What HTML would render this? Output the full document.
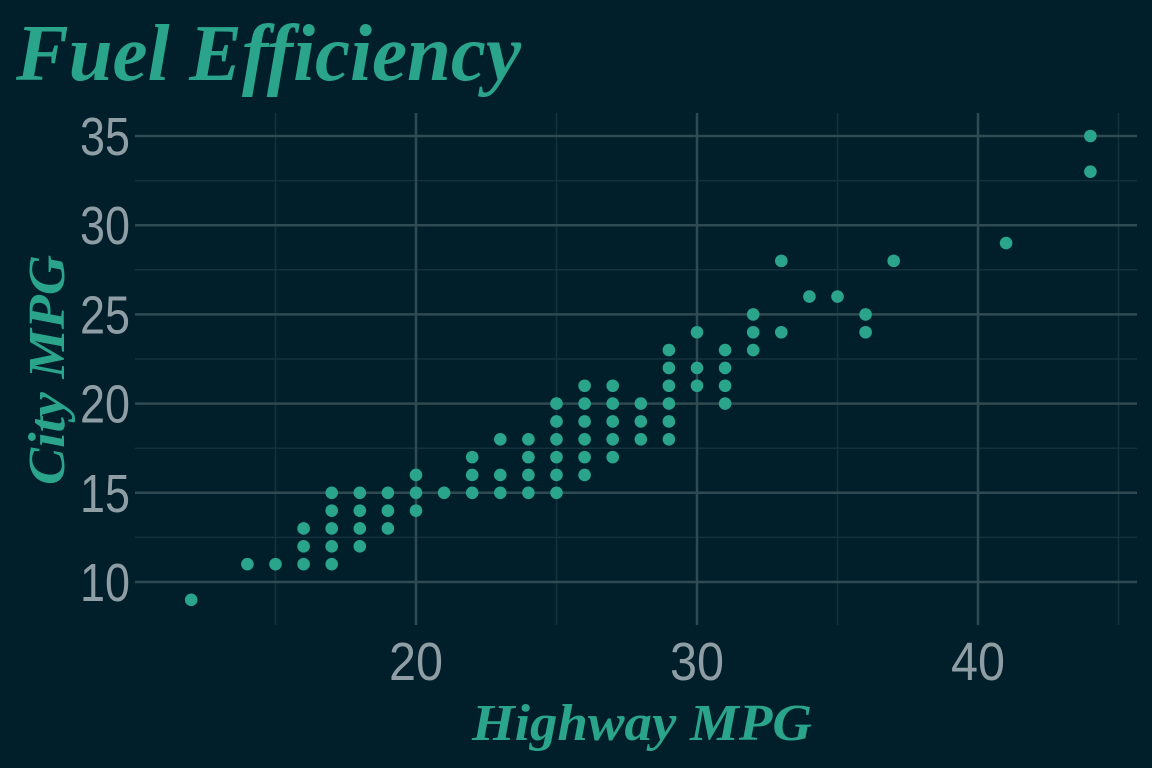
<!DOCTYPE html>
<html><head><meta charset="utf-8"><style>
html,body{margin:0;padding:0;background:#011f2b;}
svg{display:block}
</style></head><body>
<svg id="chart" width="1152" height="768" xmlns="http://www.w3.org/2000/svg">
<rect width="1152" height="768" fill="#011f2b"/>
<text x="16" y="80" font-family="Liberation Serif, serif" font-style="italic" font-weight="bold" font-size="80" fill="#2aa58c" textLength="505" lengthAdjust="spacingAndGlyphs">Fuel Efficiency</text>
<g id="grid"></g>
<g id="ticks"></g>
<g id="points"></g>
<text x="472" y="740" font-family="Liberation Serif, serif" font-style="italic" font-weight="bold" font-size="52" fill="#2aa58c" textLength="340" lengthAdjust="spacingAndGlyphs">Highway MPG</text>
<text transform="translate(64,485) rotate(-90)" font-family="Liberation Serif, serif" font-style="italic" font-weight="bold" font-size="52" fill="#2aa58c" textLength="230" lengthAdjust="spacingAndGlyphs">City MPG</text>
</svg>
<script>
const hwy = [12,14,15,16,16,16,17,17,17,17,17,18,18,18,18,19,19,19,20,20,20,21,22,22,22,23,23,23,24,24,24,24,25,25,25,25,25,25,26,26,26,26,26,26,27,27,27,27,27,28,28,28,29,29,29,29,29,29,30,30,30,31,31,31,31,32,32,32,33,33,34,35,36,36,37,41,44,44];
const cty = [9,11,11,11,12,13,11,12,13,14,15,12,13,14,15,13,14,15,14,15,16,15,15,16,17,15,16,18,15,16,17,18,15,16,17,18,19,20,16,17,18,19,20,21,17,18,19,20,21,18,19,20,18,19,20,21,22,23,21,22,24,20,21,22,23,23,24,25,24,28,26,26,24,25,28,29,33,35];
const xTicks = [20,30,40];
const xMinor = [15,25,35,45];
const yTicks = [10,15,20,25,30,35];
const yMinor = [12.5,17.5,22.5,27.5,32.5];
const NS='http://www.w3.org/2000/svg';
const L=135,R=1137,T=113,B=625;
const xs=v=>416+(v-20)*28.1;
const ys=v=>582-(v-10)*17.84;
function mk(tag,attrs,parent){const e=document.createElementNS(NS,tag);for(const k in attrs)e.setAttribute(k,attrs[k]);document.getElementById(parent).appendChild(e);return e;}
yMinor.forEach(v=>{const e=mk('line',{x1:L,x2:R,y1:ys(v),y2:ys(v),stroke:'#12323d','stroke-width':1.5},'grid');

});
xMinor.forEach(v=>{const e=mk('line',{x1:xs(v),x2:xs(v),y1:T,y2:B,stroke:'#12323d','stroke-width':1.5},'grid');

});
yTicks.forEach(v=>{const e=mk('line',{x1:L,x2:R,y1:ys(v),y2:ys(v),stroke:'#2f4a52','stroke-width':2.5},'grid');


const t=mk('text',{x:80,y:ys(v)+19,'font-family':'Liberation Sans Narrow, Liberation Sans, sans-serif','font-size':54,fill:'#8e9ea4',textLength:50,lengthAdjust:'spacingAndGlyphs'},'ticks');t.textContent=v;

});
xTicks.forEach(v=>{const e=mk('line',{x1:xs(v),x2:xs(v),y1:T,y2:B,stroke:'#2f4a52','stroke-width':2.5},'grid');


const t=mk('text',{x:xs(v)-27,y:680,'font-family':'Liberation Sans Narrow, Liberation Sans, sans-serif','font-size':54,fill:'#8e9ea4',textLength:54,lengthAdjust:'spacingAndGlyphs'},'ticks');t.textContent=v;

});
hwy.forEach((h,i)=>{const c=mk('circle',{cx:xs(h),cy:ys(cty[i]),r:6.3,fill:'#2aa58c'},'points');

});
</script>
</body></html>
